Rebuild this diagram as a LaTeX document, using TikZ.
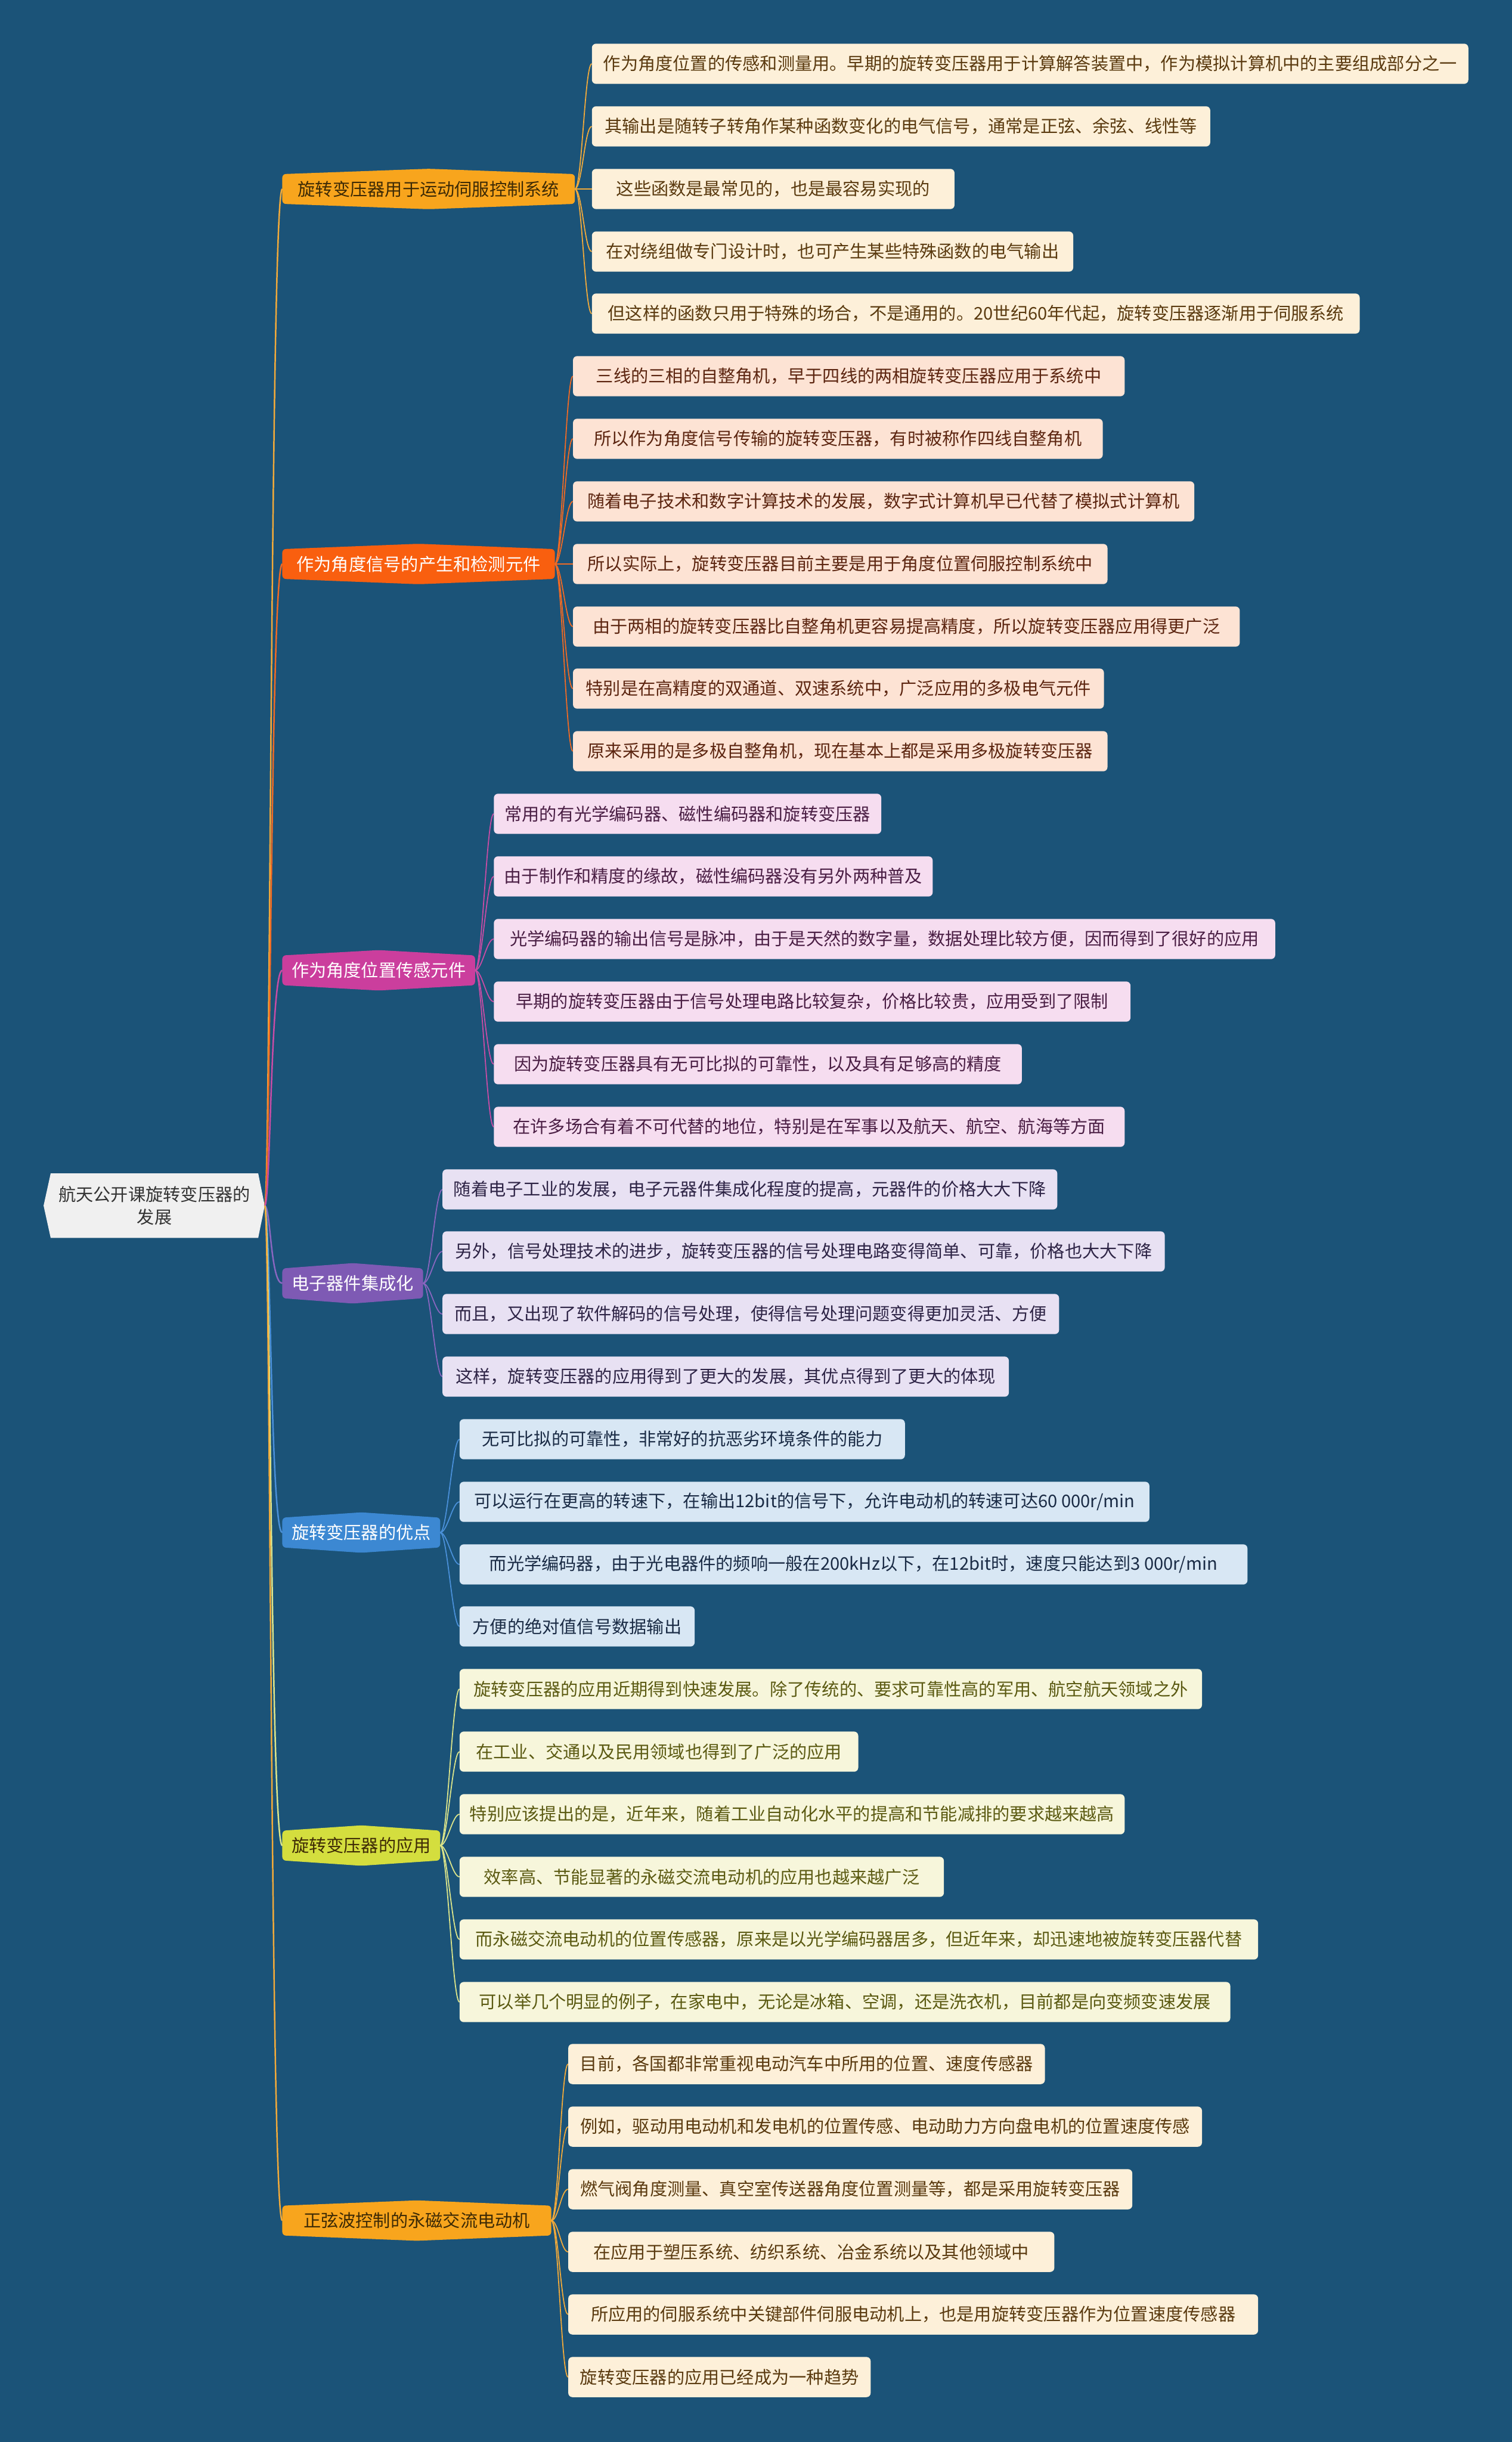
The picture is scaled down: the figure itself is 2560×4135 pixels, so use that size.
\documentclass[tikz,border=0pt]{standalone}
\usepackage{fontspec}
\setmainfont{Noto Sans CJK SC}
\usetikzlibrary{calc}
\pgfdeclarelayer{bgl}
\pgfdeclarelayer{back}
\pgfsetlayers{bgl,back,main}
\newcommand\mmfont{\fontsize{29.5pt}{38pt}\selectfont}
\definecolor{bgc}{HTML}{1B5378}
\definecolor{rootfill}{HTML}{F0F0F0}
\definecolor{roottext}{HTML}{333333}
\definecolor{cA}{HTML}{F8A51D}
\definecolor{cB}{HTML}{F95F0F}
\definecolor{cC}{HTML}{CB3E9D}
\definecolor{cD}{HTML}{7E5AB4}
\definecolor{cE}{HTML}{3C88D2}
\definecolor{cF}{HTML}{D4DE3E}
\definecolor{lnA}{HTML}{F2AA3A}
\definecolor{lnB}{HTML}{F06A24}
\definecolor{lnC}{HTML}{C94CA5}
\definecolor{lnD}{HTML}{8A66C0}
\definecolor{lnE}{HTML}{4A90D9}
\definecolor{lnF}{HTML}{DCE58A}
\definecolor{fA}{HTML}{FDF0D9}
\definecolor{tA}{HTML}{5A3A0F}
\definecolor{fB}{HTML}{FDE3D4}
\definecolor{tB}{HTML}{5C2510}
\definecolor{fC}{HTML}{F6DDF0}
\definecolor{tC}{HTML}{4A1E44}
\definecolor{fD}{HTML}{E8E1F3}
\definecolor{tD}{HTML}{2E2446}
\definecolor{fE}{HTML}{D8E7F4}
\definecolor{tE}{HTML}{1A2B45}
\definecolor{fF}{HTML}{F7F6DB}
\definecolor{tF}{HTML}{5B5A12}
\definecolor{btA}{HTML}{3D2A05}
\tikzset{
  rootbox/.style={inner sep=0pt, minimum width=351pt, minimum height=109pt, align=center, font=\mmfont, text=roottext},
  branch/.style={inner sep=0pt, minimum height=50pt, anchor=west, font=\mmfont},
  leaf/.style={inner sep=0pt, minimum height=68pt, anchor=west, rounded corners=7pt, font=\mmfont},
  lA/.style={leaf, fill=fA, text=tA},
  lB/.style={leaf, fill=fB, text=tB},
  lC/.style={leaf, fill=fC, text=tC},
  lD/.style={leaf, fill=fD, text=tD},
  lE/.style={leaf, fill=fE, text=tE},
  lF/.style={leaf, fill=fF, text=tF},
  mainline/.style={line width=2.5pt},
  leafline/.style={line width=1.8pt},
}
\newcommand\brshape[2]{%
  \begin{pgfonlayer}{back}
  \fill[#2, rounded corners=6pt] (#1.north west) -- ([yshift=9pt]#1.north) -- (#1.north east) -- (#1.south east) -- ([yshift=-9pt]#1.south) -- (#1.south west) -- cycle;
  \end{pgfonlayer}}
\newcommand\lf[6]{\node[#5, minimum width=#4pt] (#1) at (#3,#2) {#6};}
\newcommand\lk[3]{\begin{pgfonlayer}{back}\draw[leafline, #3] (#1.east) .. controls +(12,0) and +(-12,0) .. (#2.west);\end{pgfonlayer}}
\begin{document}
\begin{tikzpicture}[x=1pt, y=-1pt]
\begin{pgfonlayer}{bgl}
\fill[bgc] (0,0) rectangle (2560,4135);
\end{pgfonlayer}
\useasboundingbox (0,0) rectangle (2560,4135);

% root
\node[rootbox] (root) at (261.5,2041.5) {航天公开课旋转变压器的\\发展};
\begin{pgfonlayer}{back}
\fill[rootfill] ([xshift=-12pt]root.west) -- (root.north west) -- (root.north east) -- ([xshift=11pt]root.east) -- (root.south east) -- (root.south west) -- cycle;
\end{pgfonlayer}
\coordinate (rt) at ([xshift=11pt]root.east);

% branches
\node[branch, minimum width=495pt, text=btA] (b1) at (478,320) {旋转变压器用于运动伺服控制系统};
\node[branch, minimum width=461pt, text=white] (b2) at (478,955) {作为角度信号的产生和检测元件};
\node[branch, minimum width=326pt, text=white] (b3) at (478,1643) {作为角度位置传感元件};
\node[branch, minimum width=238pt, text=white] (b4) at (478,2173) {电子器件集成化};
\node[branch, minimum width=267pt, text=white] (b5) at (478,2595) {旋转变压器的优点};
\node[branch, minimum width=267pt, text=btA] (b6) at (478,3125) {旋转变压器的应用};
\node[branch, minimum width=455pt, text=btA] (b7) at (478,3760) {正弦波控制的永磁交流电动机};
\brshape{b1}{cA}
\brshape{b2}{cB}
\brshape{b3}{cC}
\brshape{b4}{cD}
\brshape{b5}{cE}
\brshape{b6}{cF}
\brshape{b7}{cA}

\begin{pgfonlayer}{back}
\draw[mainline, lnA] (rt) .. controls +(10,0) and +(-20,0) .. (b1.west);
\draw[mainline, lnB] (rt) .. controls +(10,0) and +(-20,0) .. (b2.west);
\draw[mainline, lnC] (rt) .. controls +(10,0) and +(-20,0) .. (b3.west);
\draw[mainline, lnD] (rt) .. controls +(10,0) and +(-20,0) .. (b4.west);
\draw[mainline, lnE] (rt) .. controls +(10,0) and +(-20,0) .. (b5.west);
\draw[mainline, lnF] (rt) .. controls +(10,0) and +(-20,0) .. (b6.west);
\draw[mainline, lnA] (rt) .. controls +(10,0) and +(-20,0) .. (b7.west);
\end{pgfonlayer}

% leaves branch 1
\lf{a1}{108}{1002}{1484}{lA}{作为角度位置的传感和测量用。早期的旋转变压器用于计算解答装置中，作为模拟计算机中的主要组成部分之一}
\lf{a2}{214}{1002}{1047}{lA}{其输出是随转子转角作某种函数变化的电气信号，通常是正弦、余弦、线性等}
\lf{a3}{320}{1002}{614}{lA}{这些函数是最常见的，也是最容易实现的}
\lf{a4}{426}{1002}{815}{lA}{在对绕组做专门设计时，也可产生某些特殊函数的电气输出}
\lf{a5}{531}{1002}{1300}{lA}{但这样的函数只用于特殊的场合，不是通用的。20世纪60年代起，旋转变压器逐渐用于伺服系统}
\foreach \n in {a1,a2,a3,a4,a5} {\lk{b1}{\n}{lnA}}

% leaves branch 2
\lf{c1}{637}{970}{934}{lB}{三线的三相的自整角机，早于四线的两相旋转变压器应用于系统中}
\lf{c2}{743}{970}{897}{lB}{所以作为角度信号传输的旋转变压器，有时被称作四线自整角机}
\lf{c3}{849}{970}{1052}{lB}{随着电子技术和数字计算技术的发展，数字式计算机早已代替了模拟式计算机}
\lf{c4}{955}{970}{905}{lB}{所以实际上，旋转变压器目前主要是用于角度位置伺服控制系统中}
\lf{c5}{1061}{970}{1129}{lB}{由于两相的旋转变压器比自整角机更容易提高精度，所以旋转变压器应用得更广泛}
\lf{c6}{1166}{970}{899}{lB}{特别是在高精度的双通道、双速系统中，广泛应用的多极电气元件}
\lf{c7}{1272}{970}{905}{lB}{原来采用的是多极自整角机，现在基本上都是采用多极旋转变压器}
\foreach \n in {c1,c2,c3,c4,c5,c6,c7} {\lk{b2}{\n}{lnB}}

% leaves branch 3
\lf{d1}{1378}{836}{656}{lC}{常用的有光学编码器、磁性编码器和旋转变压器}
\lf{d2}{1484}{836}{743}{lC}{由于制作和精度的缘故，磁性编码器没有另外两种普及}
\lf{d3}{1590}{836}{1323}{lC}{光学编码器的输出信号是脉冲，由于是天然的数字量，数据处理比较方便，因而得到了很好的应用}
\lf{d4}{1696}{836}{1078}{lC}{早期的旋转变压器由于信号处理电路比较复杂，价格比较贵，应用受到了限制}
\lf{d5}{1802}{836}{894}{lC}{因为旋转变压器具有无可比拟的可靠性，以及具有足够高的精度}
\lf{d6}{1908}{836}{1068}{lC}{在许多场合有着不可代替的地位，特别是在军事以及航天、航空、航海等方面}
\foreach \n in {d1,d2,d3,d4,d5,d6} {\lk{b3}{\n}{lnC}}

% leaves branch 4
\lf{e1}{2014}{749}{1041}{lD}{随着电子工业的发展，电子元器件集成化程度的提高，元器件的价格大大下降}
\lf{e2}{2119}{749}{1223}{lD}{另外，信号处理技术的进步，旋转变压器的信号处理电路变得简单、可靠，价格也大大下降}
\lf{e3}{2225}{749}{1044}{lD}{而且，又出现了软件解码的信号处理，使得信号处理问题变得更加灵活、方便}
\lf{e4}{2331}{749}{959}{lD}{这样，旋转变压器的应用得到了更大的发展，其优点得到了更大的体现}
\foreach \n in {e1,e2,e3,e4} {\lk{b4}{\n}{lnD}}

% leaves branch 5
\lf{g1}{2437}{778}{754}{lE}{无可比拟的可靠性，非常好的抗恶劣环境条件的能力}
\lf{g2}{2543}{778}{1168}{lE}{可以运行在更高的转速下，在输出12bit的信号下，允许电动机的转速可达60 000r/min}
\lf{g3}{2649}{778}{1334}{lE}{而光学编码器，由于光电器件的频响一般在200kHz以下，在12bit时，速度只能达到3 000r/min}
\lf{g4}{2754}{778}{398}{lE}{方便的绝对值信号数据输出}
\foreach \n in {g1,g2,g3,g4} {\lk{b5}{\n}{lnE}}

% leaves branch 6
\lf{h1}{2860}{778}{1257}{lF}{旋转变压器的应用近期得到快速发展。除了传统的、要求可靠性高的军用、航空航天领域之外}
\lf{h2}{2966}{778}{675}{lF}{在工业、交通以及民用领域也得到了广泛的应用}
\lf{h3}{3072}{778}{1126}{lF}{特别应该提出的是，近年来，随着工业自动化水平的提高和节能减排的要求越来越高}
\lf{h4}{3178}{778}{820}{lF}{效率高、节能显著的永磁交流电动机的应用也越来越广泛}
\lf{h5}{3284}{778}{1352}{lF}{而永磁交流电动机的位置传感器，原来是以光学编码器居多，但近年来，却迅速地被旋转变压器代替}
\lf{h6}{3390}{778}{1305}{lF}{可以举几个明显的例子，在家电中，无论是冰箱、空调，还是洗衣机，目前都是向变频变速发展}
\foreach \n in {h1,h2,h3,h4,h5,h6} {\lk{b6}{\n}{lnF}}

% leaves branch 7
\lf{k1}{3495}{962}{807}{lA}{目前，各国都非常重视电动汽车中所用的位置、速度传感器}
\lf{k2}{3601}{962}{1073}{lA}{例如，驱动用电动机和发电机的位置传感、电动助力方向盘电机的位置速度传感}
\lf{k3}{3707}{962}{955}{lA}{燃气阀角度测量、真空室传送器角度位置测量等，都是采用旋转变压器}
\lf{k4}{3813}{962}{823}{lA}{在应用于塑压系统、纺织系统、冶金系统以及其他领域中}
\lf{k5}{3919}{962}{1168}{lA}{所应用的伺服系统中关键部件伺服电动机上，也是用旋转变压器作为位置速度传感器}
\lf{k6}{4025}{962}{512}{lA}{旋转变压器的应用已经成为一种趋势}
\foreach \n in {k1,k2,k3,k4,k5,k6} {\lk{b7}{\n}{lnA}}
\end{tikzpicture}
\end{document}
